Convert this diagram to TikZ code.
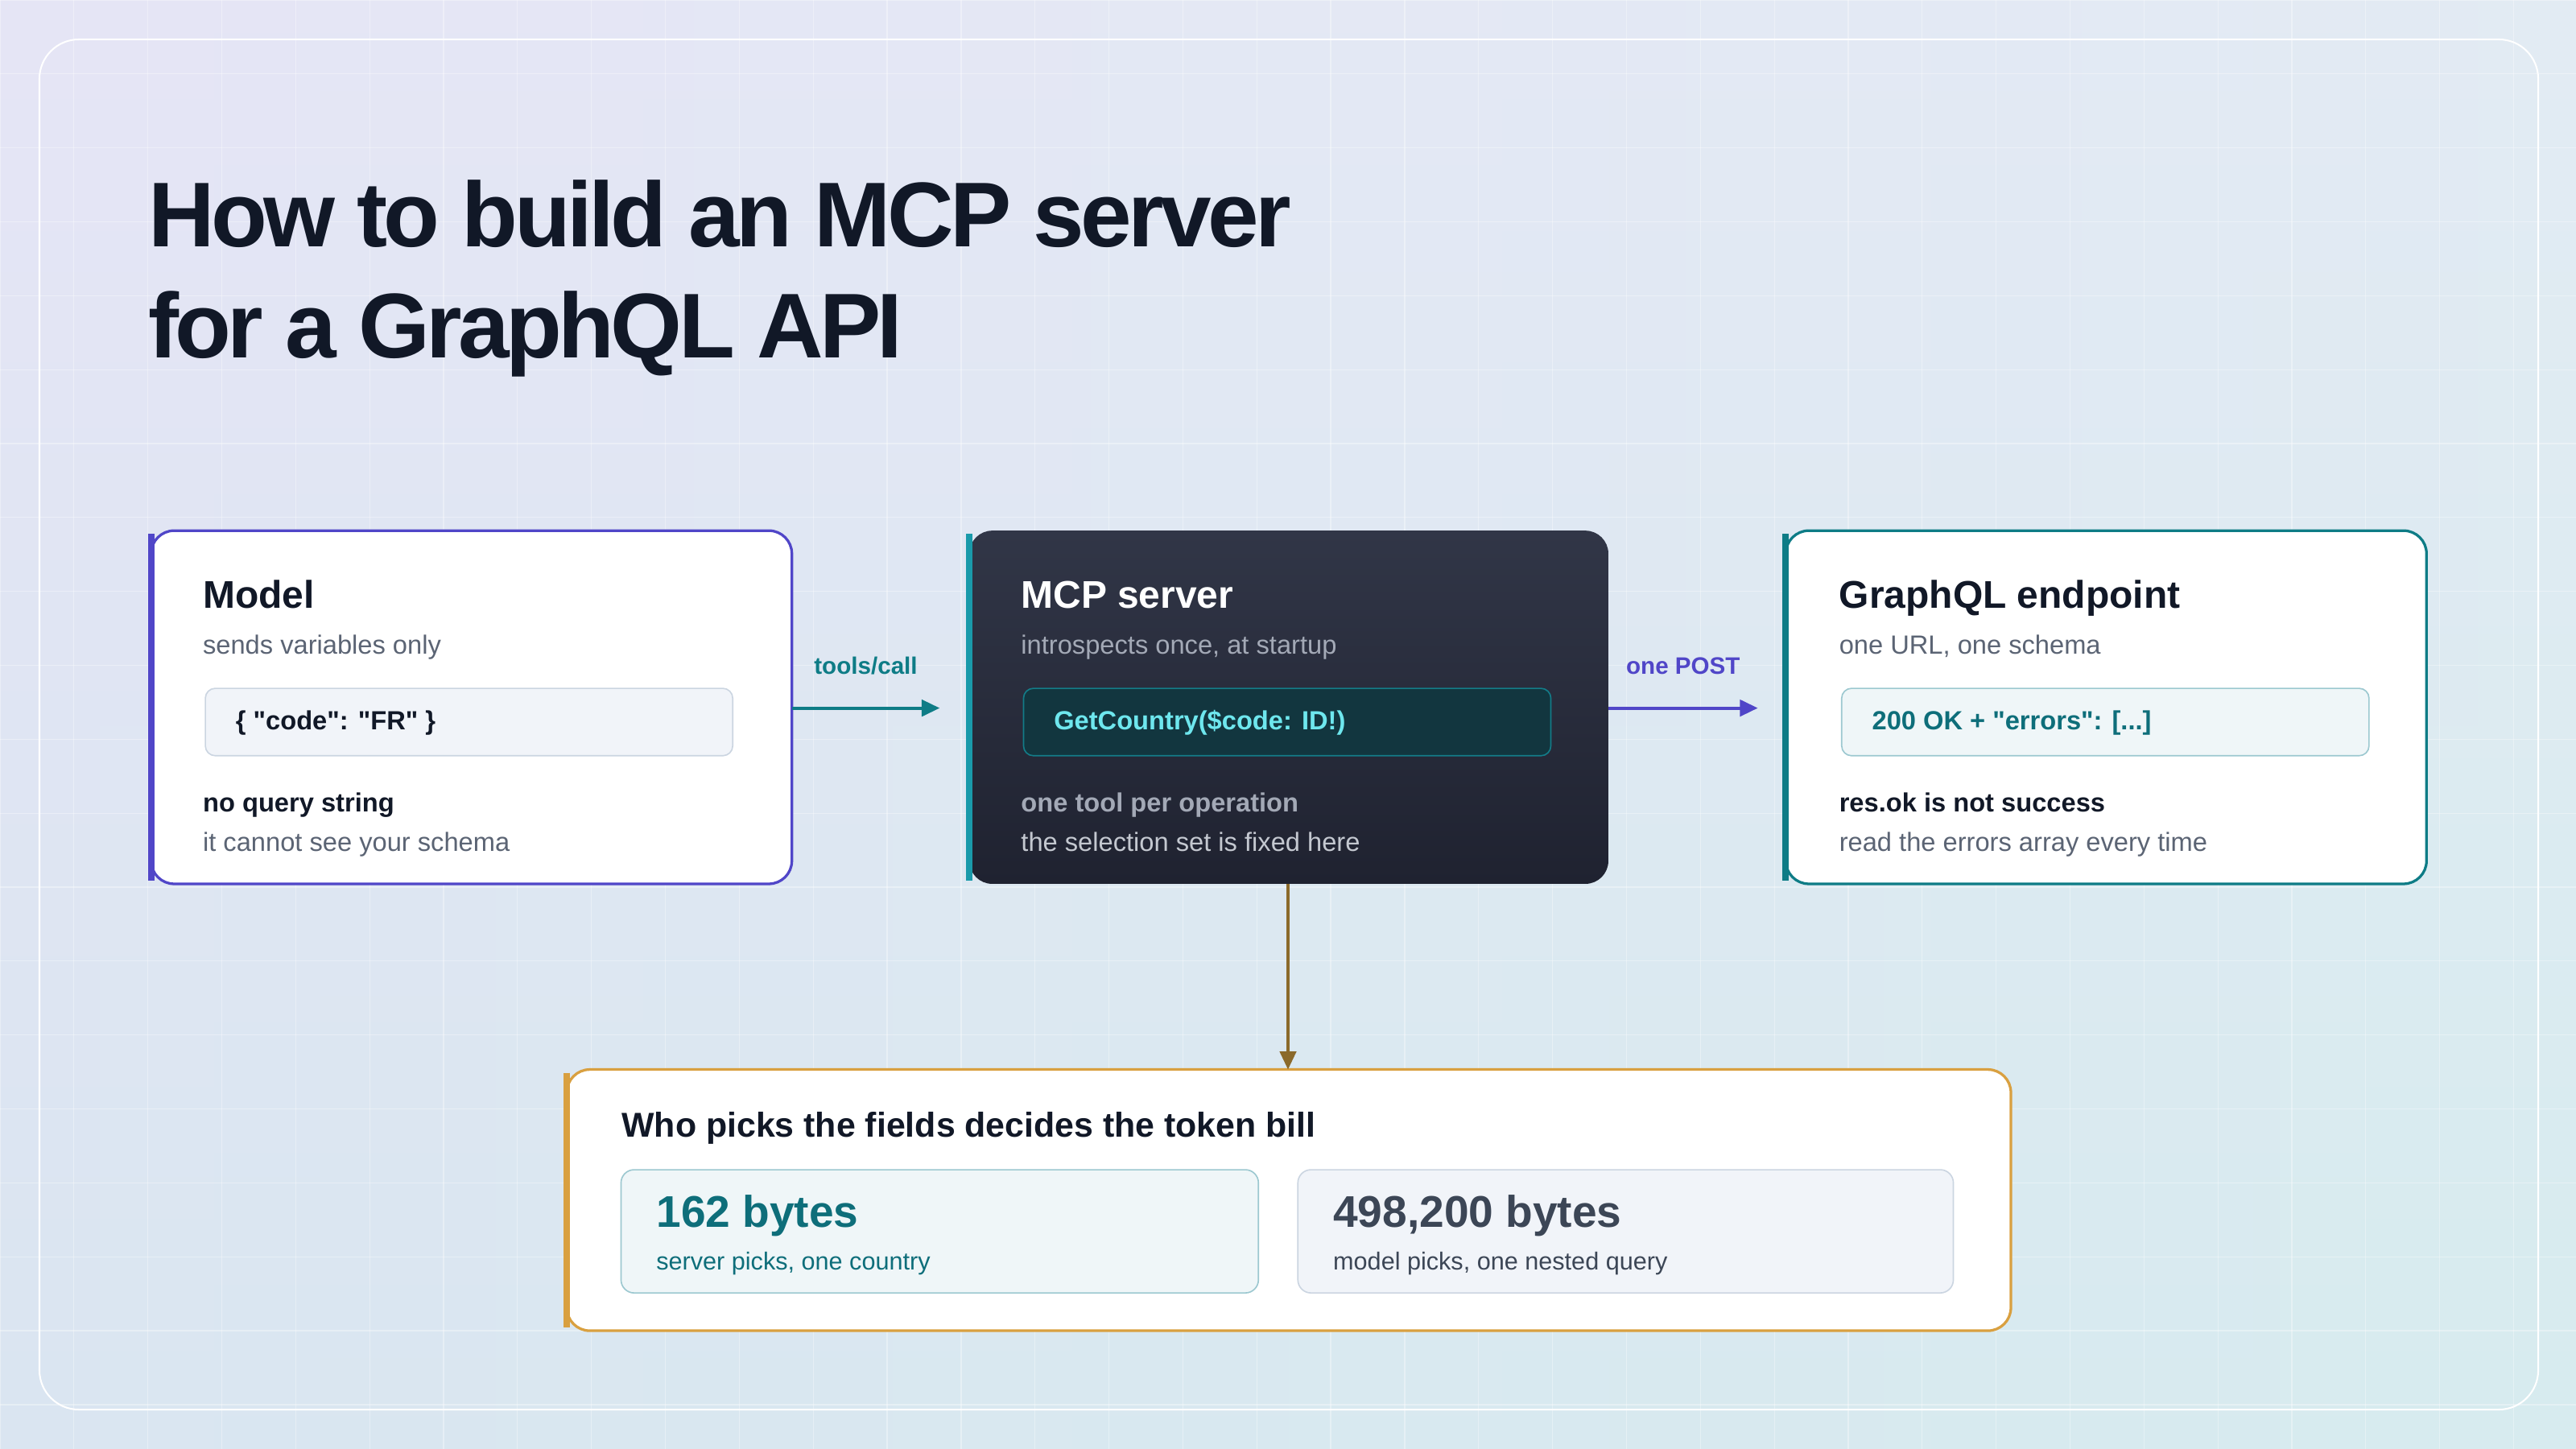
\documentclass[tikz,border=0pt]{standalone}
\usepackage{fontspec}
\setmainfont{Liberation Sans}
\newfontfamily\titlefont{Liberation Sans}[LetterSpace=-4.0]
\newcommand{\dq}{\textquotedbl}
\usetikzlibrary{positioning,arrows.meta}
\definecolor{ink}{HTML}{111827}
\definecolor{muted}{HTML}{5B6474}
\definecolor{violet}{HTML}{5046C8}
\definecolor{teal}{HTML}{0E7C86}
\definecolor{gold}{HTML}{D9A040}
\definecolor{brown}{HTML}{8B6A2B}
\definecolor{codebg}{HTML}{F1F4F9}
\definecolor{codeline}{HTML}{CBD5E1}
\definecolor{bgleft}{HTML}{E3E2F5}
\definecolor{bgright}{HTML}{DDEFF1}
\definecolor{bgtop}{HTML}{E8E8F6}
\definecolor{bgbottom}{HTML}{D2E9EE}
\definecolor{nighttop}{HTML}{313647}
\definecolor{nightbottom}{HTML}{1F2230}
\definecolor{cyanbar}{HTML}{1A9AAA}
\definecolor{nightmuted}{HTML}{A3A9B6}
\definecolor{nightsub}{HTML}{C4C8D0}
\definecolor{nightcode}{HTML}{12363F}
\definecolor{nightcodeline}{HTML}{137C88}
\definecolor{cyantext}{HTML}{6EE7EE}
\definecolor{tealbg}{HTML}{EFF6F8}
\definecolor{tealline}{HTML}{9CC8D0}
\definecolor{tealtext}{HTML}{0E6E7A}
\definecolor{slate}{HTML}{3C4656}
\tikzset{
  card/.style={draw=#1, line width=1.6pt, fill=white, rounded corners=14pt},
  bar/.style={line width=4pt, draw=#1},
  code/.style={draw=codeline, fill=codebg, rounded corners=6pt, line width=0.8pt},
  head/.style={anchor=base west, font=\bfseries\fontsize{23.5}{28}\selectfont, text=ink},
  sub/.style={anchor=base west, font=\fontsize{16}{19}\selectfont, text=muted},
  note/.style={anchor=base west, font=\bfseries\fontsize{16}{19}\selectfont, text=ink},
  link/.style={-{Triangle[length=11pt,width=10pt]}, line width=2pt},
}
\begin{document}
\begin{tikzpicture}[x=1pt,y=-1pt]
  % the frame
  \useasboundingbox (0,0) rectangle (1568,882);
  \shade[left color=bgleft, right color=bgright] (0,0) rectangle (1568,882);
  \shade[top color=bgtop, bottom color=bgbottom, opacity=0.5] (0,0) rectangle (1568,882);
  \foreach \i in {0,45,...,1568} {
    \draw[white, opacity=0.35, line width=0.6pt] (\i,0) -- (\i,882);
  };
  \foreach \j in {0,45,...,882} {
    \draw[white, opacity=0.35, line width=0.6pt] (0,\j) -- (1568,\j);
  };
  \draw[white, line width=1pt, rounded corners=24pt] (24,24) rectangle (1545,858);

  % title
  \node[anchor=base west, font=\titlefont\bfseries\fontsize{56}{60}\selectfont, text=ink, inner sep=0pt] (title1) at (90,150) {How to build an MCP server};
  \node[anchor=base west, font=\titlefont\bfseries\fontsize{56}{60}\selectfont, text=ink, inner sep=0pt] (title2) at (90,218) {for a GraphQL API};

  % model
  \draw[card=violet] (92,323) rectangle (482,538);
  \draw[bar=violet] (92,325) -- (92,536);
  \node[head] (mhead) at (120,370) {Model};
  \node[sub] (msub) at (120,398) {sends variables only};
  \draw[code] (125,419) rectangle (446,460);
  \node[anchor=west, font=\bfseries\fontsize{16}{19}\selectfont, text=ink] (mcode) at (140,440) {\{ \dq code\dq: \dq FR\dq\ \}};
  \node[note] (mnote) at (120,494) {no query string};
  \node[sub] (msub2) at (120,518) {it cannot see your schema};
  \coordinate (mout) at (482,431);

  % mcp server
  \shade[top color=nighttop, bottom color=nightbottom, rounded corners=14pt] (590,323) rectangle (979,538);
  \draw[bar=cyanbar] (590,325) -- (590,536);
  \node[head, text=white] (shead) at (618,370) {MCP server};
  \node[sub, text=nightmuted] (ssub) at (618,398) {introspects once, at startup};
  \draw[fill=nightcode, draw=nightcodeline, rounded corners=6pt, line width=0.8pt] (623,419) rectangle (944,460);
  \node[anchor=west, font=\bfseries\fontsize{16}{19}\selectfont, text=cyantext] (scode) at (638,440) {GetCountry(\$code: ID!)};
  \node[note, text=nightmuted] (snote) at (618,494) {one tool per operation};
  \node[sub, text=nightsub] (ssub2) at (618,518) {the selection set is fixed here};
  \coordinate (sin) at (572,431);
  \coordinate (sout) at (979,431);
  \coordinate (sdown) at (784,538);

  % graphql endpoint
  \draw[card=teal] (1087,323) rectangle (1477,538);
  \draw[bar=teal] (1087,325) -- (1087,536);
  \node[head] (ghead) at (1116,370) {GraphQL endpoint};
  \node[sub] (gsub) at (1116,398) {one URL, one schema};
  \draw[fill=tealbg, draw=tealline, rounded corners=6pt, line width=0.8pt] (1121,419) rectangle (1442,460);
  \node[anchor=west, font=\bfseries\fontsize{16}{19}\selectfont, text=tealtext] (gcode) at (1136,440) {200 OK + \dq errors\dq: [...]};
  \node[note] (gnote) at (1116,494) {res.ok is not success};
  \node[sub] (gsub2) at (1116,518) {read the errors array every time};
  \coordinate (gin) at (1070,431);

  % links
  \draw[link, teal] (mout) -- (sin) node[midway, above=16pt, font=\bfseries\fontsize{14.5}{17}\selectfont] {tools/call};
  \draw[link, violet] (sout) -- (gin) node[midway, above=16pt, font=\bfseries\fontsize{14.5}{17}\selectfont] {one POST};

  % token bill
  \draw[card=gold] (345,651) rectangle (1224,810);
  \draw[bar=gold] (345,653) -- (345,808);
  \coordinate (bin) at (784,651);
  \draw[link, brown, line width=1.6pt] (sdown) -- (bin);
  \node[anchor=base west, font=\bfseries\fontsize{21}{25}\selectfont, text=ink] (bhead) at (375,692) {Who picks the fields decides the token bill};
  \draw[fill=tealbg, draw=tealline, rounded corners=8pt, line width=0.8pt] (378,712) rectangle (766,787);
  \draw[code, rounded corners=8pt] (790,712) rectangle (1189,787);
  \node[anchor=base west, font=\bfseries\fontsize{27}{30}\selectfont, text=tealtext] (lbig) at (396,747) {162 bytes};
  \node[anchor=base west, font=\fontsize{15}{18}\selectfont, text=tealtext] (lsub) at (396,773) {server picks, one country};
  \node[anchor=base west, font=\bfseries\fontsize{27}{30}\selectfont, text=slate] (rbig) at (808,747) {498,200 bytes};
  \node[anchor=base west, font=\fontsize{15}{18}\selectfont, text=slate] (rsub) at (808,773) {model picks, one nested query};
\end{tikzpicture}
\end{document}
